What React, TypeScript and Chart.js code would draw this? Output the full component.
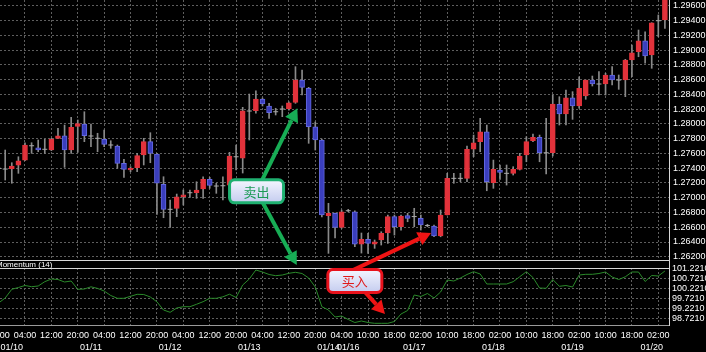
import React, { useEffect, useRef } from "react";
import { Chart, registerables } from "chart.js";

Chart.register(...registerables);

// ---- time axis: two sessions of 2-hour candles ----
const SESSION_STARTS = ["2012-01-09T20:00:00Z", "2012-01-16T04:00:00Z"];
const SESSION_BARS = [53, 49];
const BAR_HOURS = 2;
const TIME_TICK_EVERY = 4;

// ---- candle data (2h bars) ----
const OPEN = [
  1.27399, 1.27389, 1.27393, 1.2744, 1.27511, 1.27705, 1.27678, 1.27657, 1.27647, 1.27806,
  1.27841, 1.27647, 1.27966, 1.27999, 1.27837, 1.27806, 1.27792, 1.27715, 1.27701, 1.27467,
  1.27376, 1.27407, 1.27579, 1.2776, 1.27593, 1.27182, 1.26843, 1.26857, 1.27014, 1.27068,
  1.27068, 1.27118, 1.2725, 1.27159, 1.27163, 1.27172, 1.27556, 1.27535, 1.28176, 1.2818,
  1.28339, 1.28244, 1.28166, 1.28203, 1.28203, 1.28294, 1.28596, 1.28484, 1.27963, 1.27783,
  1.26756, 1.26789, 1.26599, 1.26824, 1.2681, 1.26372, 1.26436, 1.26372, 1.26427, 1.26522,
  1.26745, 1.26607, 1.26759, 1.26745, 1.26721, 1.26623, 1.26616, 1.26481, 1.26766, 1.27263,
  1.27263, 1.27263, 1.27657, 1.2776, 1.27895, 1.27204, 1.27376, 1.27331, 1.27331, 1.27385,
  1.27579, 1.27773, 1.27819, 1.2761, 1.2761, 1.28267, 1.28135, 1.28356, 1.28244, 1.28379,
  1.28596, 1.28542, 1.28542, 1.28664, 1.28596, 1.28596, 1.28867, 1.2898, 1.29129, 1.28935,
  1.294, 1.2941,
];
const HIGH = [
  1.27606, 1.27647, 1.27475, 1.27556, 1.27746, 1.27746, 1.27783, 1.27792, 1.27806, 1.27941,
  1.27986, 1.2809, 1.28054, 1.28166, 1.27999, 1.27874, 1.27918, 1.27773, 1.27715, 1.27521,
  1.27421, 1.27602, 1.27806, 1.27882, 1.27602, 1.27285, 1.26969, 1.2705, 1.27105, 1.27105,
  1.27217, 1.27285, 1.27277, 1.27196, 1.27285, 1.27616, 1.27715, 1.28226, 1.28406, 1.28451,
  1.28352, 1.2828, 1.28213, 1.28244, 1.28302, 1.28777, 1.28732, 1.28497, 1.28027, 1.27796,
  1.26924, 1.26793, 1.26833, 1.26843, 1.26824, 1.26522, 1.26518, 1.26427, 1.26539, 1.26766,
  1.26766, 1.26766, 1.26789, 1.26857, 1.26766, 1.2664, 1.2663, 1.26833, 1.27331, 1.27331,
  1.27331, 1.27701, 1.2785, 1.28077, 1.27986, 1.27511, 1.27444, 1.27444, 1.27421, 1.27602,
  1.27827, 1.27864, 1.2785, 1.28077, 1.28393, 1.2837, 1.28461, 1.28438, 1.28641, 1.28596,
  1.2865, 1.28709, 1.28687, 1.28777, 1.28664, 1.28877, 1.29071, 1.29274, 1.29251, 1.29373,
  1.29478, 1.2976,
];
const LOW = [
  1.27376, 1.2724, 1.27196, 1.27331, 1.27502, 1.27602, 1.27624, 1.27602, 1.27638, 1.278,
  1.27412, 1.27602, 1.27616, 1.2776, 1.27692, 1.27624, 1.27692, 1.2767, 1.27399, 1.27277,
  1.27353, 1.27353, 1.27444, 1.27475, 1.26775, 1.26729, 1.26599, 1.26743, 1.26901, 1.27006,
  1.26992, 1.26992, 1.27128, 1.2706, 1.26969, 1.27159, 1.27376, 1.27335, 1.27783, 1.28145,
  1.28244, 1.28077, 1.28122, 1.28099, 1.28189, 1.2828, 1.28393, 1.27738, 1.27647, 1.26739,
  1.26246, 1.26454, 1.26585, 1.2681, 1.26336, 1.2625, 1.26246, 1.26314, 1.26359, 1.26382,
  1.26494, 1.26562, 1.26675, 1.26607, 1.26562, 1.26607, 1.26471, 1.26471, 1.26766, 1.27196,
  1.27217, 1.27217, 1.27556, 1.27624, 1.27095, 1.27128, 1.2725, 1.27172, 1.27308, 1.27376,
  1.27488, 1.2776, 1.27488, 1.27322, 1.27566, 1.27986, 1.27986, 1.28063, 1.28213, 1.28335,
  1.28515, 1.28393, 1.28393, 1.28528, 1.2847, 1.2837, 1.28641, 1.28912, 1.28823, 1.28755,
  1.29183, 1.29297,
];
const CLOSE = [
  1.27399, 1.27389, 1.2743, 1.27502, 1.27715, 1.27705, 1.27647, 1.27657, 1.27796, 1.27841,
  1.27647, 1.27955, 1.28006, 1.27841, 1.27837, 1.27806, 1.27724, 1.27715, 1.27467, 1.27385,
  1.27399, 1.2757, 1.2776, 1.27602, 1.27196, 1.26843, 1.26843, 1.27014, 1.27041, 1.27068,
  1.27105, 1.2725, 1.27168, 1.27159, 1.27163, 1.27566, 1.27556, 1.2818, 1.28176, 1.28339,
  1.28271, 1.28153, 1.28166, 1.28203, 1.28288, 1.28596, 1.28497, 1.27963, 1.27783, 1.26766,
  1.26789, 1.26599, 1.2681, 1.26824, 1.26372, 1.26436, 1.26382, 1.26404, 1.26518, 1.26745,
  1.26607, 1.26752, 1.26721, 1.26745, 1.2663, 1.26623, 1.26481, 1.26766, 1.27263, 1.27263,
  1.27263, 1.27657, 1.27746, 1.27895, 1.27217, 1.27385, 1.27345, 1.27331, 1.27385, 1.27566,
  1.2776, 1.27819, 1.2761, 1.2761, 1.28271, 1.28135, 1.28356, 1.28244, 1.28484, 1.28596,
  1.28542, 1.28542, 1.28664, 1.28596, 1.28596, 1.28867, 1.28966, 1.29129, 1.28922, 1.29373,
  1.294, 1.2974,
];

// ---- Momentum(14) ----
const MOMENTUM = [
  99.486, 99.736, 100.171, 100.261, 100.361, 100.301, 100.336, 100.551, 100.686, 100.661,
  100.536, 100.586, 100.171, 100.186, 100.296, 100.216, 100.086, 99.861, 99.721, 99.721,
  99.821, 99.921, 99.911, 99.786, 99.546, 99.136, 99.021, 99.236, 99.301, 99.301,
  99.421, 99.551, 99.721, 99.721, 99.796, 99.926, 99.761, 100.386, 100.686, 101.136,
  101.036, 100.911, 100.851, 100.886, 100.971, 101.021, 100.961, 100.736, 100.286, 99.301,
  99.136, 98.786, 98.836, 98.661, 98.511, 98.586, 98.511, 98.471, 98.471, 98.471,
  98.561, 98.936, 99.111, 99.886, 99.811, 99.961, 99.736, 100.036, 100.636, 100.586,
  100.736, 100.911, 101.051, 100.936, 100.436, 100.436, 100.436, 100.436, 100.551, 100.801,
  101.051, 100.761, 100.236, 100.221, 100.661, 100.321, 100.361, 100.286, 100.886, 100.921,
  100.921, 100.961, 101.036, 100.786, 100.661, 100.796, 101.036, 101.036, 100.561, 100.861,
  100.836, 101.086,
];

// ---- axis ticks / ranges ----
const PRICE_TICKS = [
  1.262, 1.264, 1.266, 1.268, 1.27, 1.272, 1.274, 1.276, 1.278,
  1.28, 1.282, 1.284, 1.286, 1.288, 1.29, 1.292, 1.294, 1.296,
];
const PRICE_MIN = 1.26156;
const PRICE_MAX = 1.29681;
const MOM_TICKS = [98.721, 99.221, 99.721, 100.221, 100.721, 101.221];
const MOM_MIN = 98.386;
const MOM_MAX = 101.636;
const X_MIN = 0.212;
const X_MAX = 101.62;

const MOM_TITLE = "Momentum (14)";

// ---- annotations (anchored in data space) ----
const SELL_TEXT = "卖出";
const BUY_TEXT = "买入";
const SELL_BOX = { x: 39.1, y: 1.27087, axis: "y" };
const SELL_TIPS = [
  { x: 45.28, y: 1.28212, axis: "y" },
  { x: 45.19, y: 101.386, axis: "y2" },
];
const BUY_BOX = { x: 54.0, y: 100.586, axis: "y2" };
const BUY_ORIGINS = [
  { x: 50.24, y: 100.586, axis: "y2" },
  { x: 54.0, y: 100.586, axis: "y2" },
];
const BUY_TIPS = [
  { x: 65.55, y: 1.26522, axis: "y" },
  { x: 58.57, y: 98.936, axis: "y2" },
];

// ---- derived categories ----
const CANDLE_TIMES: Date[] = [];
SESSION_STARTS.forEach((s, i) => {
  const t0 = Date.parse(s);
  for (let j = 0; j < SESSION_BARS[i]; j++) CANDLE_TIMES.push(new Date(t0 + j * BAR_HOURS * 3600e3));
});
const pad = (n: number) => String(n).padStart(2, "0");
const TIME_LABELS = CANDLE_TIMES.map((d) => `${pad(d.getUTCHours())}:${pad(d.getUTCMinutes())}`);
const DATE_LABELS = CANDLE_TIMES.map((d) => `${pad(d.getUTCMonth() + 1)}/${pad(d.getUTCDate())}`);
const TIME_TICK_IDX = TIME_LABELS.map((_, k) => k).filter((k) => k % TIME_TICK_EVERY === 0);
const DATE_TICK_IDX = DATE_LABELS.map((_, k) => k).filter((k) => k > 0 && DATE_LABELS[k] !== DATE_LABELS[k - 1]);

const BG = "#000000";
const GRID = "#5e5e5e";
const FRAME = "#d8d8d8";
const LABEL = "#ffffff";
const UP_FILL = "#e2323b";
const DOWN_FILL = "#3a3ebd";
const DOWN_EDGE = "#6368e0";
const WICK = "#8a8a8a";
const DOJI = "#a8a8a8";
const MOM_COLOR = "#2a8a2a";
const FONT = "'Liberation Sans', Arial, sans-serif";

function fixPad(s: any) {
  s.paddingLeft = 0;
  s.paddingRight = 0;
  s.paddingTop = 0;
  s.paddingBottom = 0;
}

function px(chart: any, p: { x: number; y: number; axis: string }) {
  return {
    x: chart.scales.x.getPixelForValue(p.x),
    y: chart.scales[p.axis].getPixelForValue(p.y),
  };
}

function drawArrow(ctx: CanvasRenderingContext2D, x1: number, y1: number, x2: number, y2: number, color: string, w: number, head: number) {
  const a = Math.atan2(y2 - y1, x2 - x1);
  const hx = x2 - head * Math.cos(a);
  const hy = y2 - head * Math.sin(a);
  ctx.strokeStyle = color;
  ctx.lineWidth = w;
  ctx.lineCap = "butt";
  ctx.beginPath();
  ctx.moveTo(x1, y1);
  ctx.lineTo(hx, hy);
  ctx.stroke();
  const hw = head * 0.55;
  ctx.fillStyle = color;
  ctx.beginPath();
  ctx.moveTo(x2, y2);
  ctx.lineTo(hx + hw * Math.sin(a), hy - hw * Math.cos(a));
  ctx.lineTo(hx - hw * Math.sin(a), hy + hw * Math.cos(a));
  ctx.closePath();
  ctx.fill();
}

function drawNoteBox(ctx: CanvasRenderingContext2D, cx: number, cy: number, text: string, edge: string, textColor: string) {
  const w = 54, h = 23, r = 5;
  const x = cx - w / 2, y = cy - h / 2;
  const g = ctx.createLinearGradient(x, y, x, y + h);
  g.addColorStop(0, "#f4f6ff");
  g.addColorStop(1, "#c4ccef");
  ctx.beginPath();
  (ctx as any).roundRect(x, y, w, h, r);
  ctx.fillStyle = g;
  ctx.fill();
  ctx.lineWidth = 3;
  ctx.strokeStyle = edge;
  ctx.stroke();
  ctx.fillStyle = textColor;
  ctx.font = "13px 'Noto Sans CJK SC', sans-serif";
  ctx.textAlign = "center";
  ctx.textBaseline = "middle";
  ctx.fillText(text, cx, cy + 0.5);
}

const panePlugin = {
  id: "panes",
  beforeDatasetsDraw(chart: any) {
    const { ctx, chartArea } = chart;
    const yMain = chart.scales.y;
    const yMom = chart.scales.y2;
    const top = Math.round(yMain.bottom);
    const bot = Math.round(yMom.getPixelForValue(MOM_TICKS[MOM_TICKS.length - 1]));
    ctx.save();
    ctx.fillStyle = BG;
    ctx.fillRect(chartArea.left, top, chartArea.right - chartArea.left, bot - top);
    ctx.strokeStyle = FRAME;
    ctx.lineWidth = 1;
    ctx.beginPath();
    ctx.moveTo(chartArea.left, top + 0.5);
    ctx.lineTo(chartArea.right, top + 0.5);
    ctx.moveTo(chartArea.left, bot + 0.5);
    ctx.lineTo(chartArea.right, bot + 0.5);
    ctx.stroke();
    ctx.fillStyle = LABEL;
    ctx.font = `8px ${FONT}`;
    ctx.textAlign = "left";
    ctx.textBaseline = "middle";
    ctx.fillText(MOM_TITLE, chartArea.left - 4, (top + bot) / 2 + 0.5);
    ctx.restore();
  },
  afterDraw(chart: any) {
    const ctx = chart.ctx as CanvasRenderingContext2D;
    ctx.save();
    const sb = px(chart, SELL_BOX);
    SELL_TIPS.forEach((t) => {
      const p = px(chart, t);
      drawArrow(ctx, sb.x, sb.y, p.x, p.y, "#17ad55", 4, 13);
    });
    BUY_TIPS.forEach((t, i) => {
      const o = px(chart, BUY_ORIGINS[i]);
      const p = px(chart, t);
      drawArrow(ctx, o.x, o.y, p.x, p.y, "#f01414", 4, 13);
    });
    drawNoteBox(ctx, sb.x, sb.y, SELL_TEXT, "#1fb070", "#1a9a55");
    const bb = px(chart, BUY_BOX);
    drawNoteBox(ctx, bb.x, bb.y, BUY_TEXT, "#e8121c", "#e01a1a");
    ctx.restore();
  },
};

export default function App() {
  const ref = useRef<HTMLCanvasElement>(null);

  useEffect(() => {
    const idx = OPEN.map((_, k) => k);
    const bodyIdx = idx.filter((k) => OPEN[k] !== CLOSE[k]);
    const dojiIdx = idx.filter((k) => OPEN[k] === CLOSE[k]);

    const chart = new Chart(ref.current as HTMLCanvasElement, {
      type: "line",
      data: {
        datasets: [
          {
            type: "bar",
            label: "wick",
            data: idx.map((k) => ({ x: k, y: [LOW[k], HIGH[k]] })) as any,
            backgroundColor: WICK,
            barThickness: 1,
            grouped: false,
            borderWidth: 0,
            xAxisID: "x",
            yAxisID: "y",
            order: 4,
          } as any,
          {
            type: "bar",
            label: "body",
            data: bodyIdx.map((k) => ({ x: k, y: [OPEN[k], CLOSE[k]] })) as any,
            backgroundColor: bodyIdx.map((k) => (CLOSE[k] > OPEN[k] ? UP_FILL : DOWN_FILL)),
            borderColor: bodyIdx.map((k) => (CLOSE[k] > OPEN[k] ? UP_FILL : DOWN_EDGE)),
            borderWidth: 1,
            borderSkipped: false,
            barThickness: 5,
            grouped: false,
            xAxisID: "x",
            yAxisID: "y",
            order: 3,
          } as any,
          {
            type: "line",
            label: "doji",
            data: dojiIdx.map((k) => ({ x: k, y: OPEN[k] })),
            showLine: false,
            pointStyle: "line",
            pointRadius: 2.5,
            pointBorderWidth: 1,
            pointBorderColor: DOJI,
            pointBackgroundColor: DOJI,
            xAxisID: "x",
            yAxisID: "y",
            order: 2,
          } as any,
          {
            type: "line",
            label: MOM_TITLE,
            data: idx.map((k) => ({ x: k, y: MOMENTUM[k] })),
            borderColor: MOM_COLOR,
            borderWidth: 1,
            pointRadius: 0,
            tension: 0,
            xAxisID: "x",
            yAxisID: "y2",
            order: 1,
          } as any,
        ],
      },
      options: {
        responsive: false,
        animation: false,
        devicePixelRatio: 1,
        layout: { padding: 0, autoPadding: false } as any,
        plugins: {
          legend: { display: false },
          tooltip: { enabled: false },
        },
        scales: {
          x: {
            type: "linear",
            position: "bottom",
            min: X_MIN,
            max: X_MAX,
            offset: false,
            afterBuildTicks: (s: any) => {
              s.ticks = TIME_TICK_IDX.map((v) => ({ value: v }));
            },
            afterFit: (s: any) => {
              s.height = 14;
              fixPad(s);
            },
            ticks: {
              autoSkip: false,
              maxRotation: 0,
              padding: 5,
              color: LABEL,
              font: { family: FONT, size: 9 },
              callback: (v: any) => TIME_LABELS[Math.round(v)] ?? "",
            },
            grid: { color: GRID, drawTicks: false, offset: false },
            border: { display: true, color: "#9a9a9a", dash: [2, 2] },
          } as any,
          x2: {
            type: "linear",
            position: "bottom",
            min: X_MIN,
            max: X_MAX,
            offset: false,
            afterBuildTicks: (s: any) => {
              s.ticks = DATE_TICK_IDX.map((v) => ({ value: v }));
            },
            afterFit: (s: any) => {
              s.height = 13;
              fixPad(s);
            },
            ticks: {
              autoSkip: false,
              maxRotation: 0,
              padding: 3,
              color: LABEL,
              font: { family: FONT, size: 9 },
              callback: (v: any) => DATE_LABELS[Math.round(v)] ?? "",
            },
            grid: { display: false, drawTicks: false, offset: false },
            border: { display: false },
          } as any,
          y: {
            type: "linear",
            position: "right",
            stack: "panes",
            stackWeight: 4,
            min: PRICE_MIN,
            max: PRICE_MAX,
            afterBuildTicks: (s: any) => {
              s.ticks = PRICE_TICKS.map((v) => ({ value: v }));
            },
            afterFit: (s: any) => {
              s.width = 37;
              fixPad(s);
            },
            ticks: {
              autoSkip: false,
              padding: 4,
              color: LABEL,
              font: { family: FONT, size: 9 },
              callback: (v: any) => Number(v).toFixed(5),
            },
            grid: { color: GRID, drawTicks: false },
            border: { display: true, color: FRAME, dash: [2, 2] },
          } as any,
          y2: {
            type: "linear",
            position: "right",
            stack: "panes",
            stackWeight: 1,
            min: MOM_MIN,
            max: MOM_MAX,
            afterBuildTicks: (s: any) => {
              s.ticks = MOM_TICKS.map((v) => ({ value: v }));
            },
            afterFit: (s: any) => {
              s.width = 37;
              fixPad(s);
            },
            ticks: {
              autoSkip: false,
              padding: 3,
              color: LABEL,
              font: { family: FONT, size: 9 },
              callback: (v: any) => Number(v).toFixed(4),
            },
            grid: { color: GRID, drawTicks: false },
            border: { display: true, color: FRAME, dash: [2, 2] },
          } as any,
        },
      },
      plugins: [panePlugin],
    });
    return () => chart.destroy();
  }, []);

  return (
    <div style={{ position: "fixed", left: 0, top: 0, width: 706, height: 352, background: BG }}>
      <canvas ref={ref} width={706} height={352} style={{ display: "block" }} />
    </div>
  );
}
